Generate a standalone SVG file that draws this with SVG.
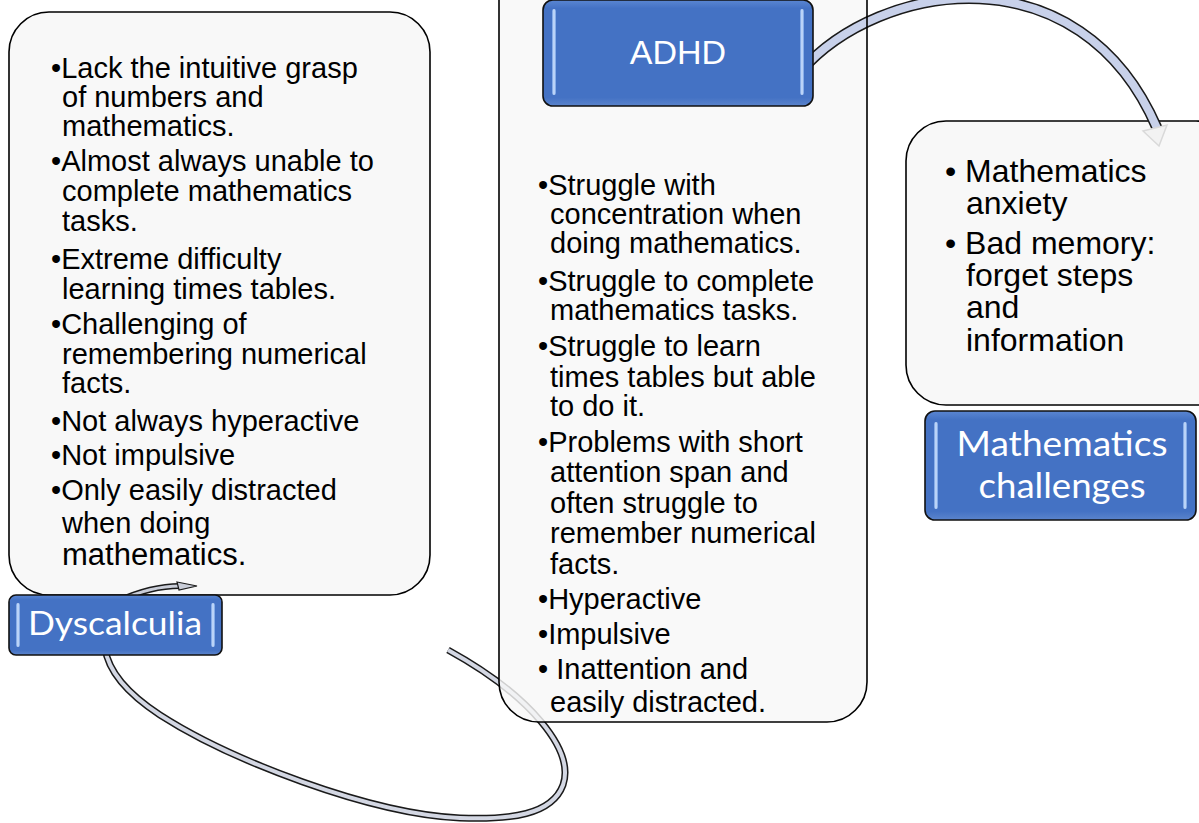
<svg xmlns="http://www.w3.org/2000/svg" width="1199" height="823" viewBox="0 0 1199 823">
  <defs>
    <linearGradient id="gloss" x1="0" y1="0" x2="1" y2="0">
      <stop offset="0" stop-color="#6f9be0"/>
      <stop offset="0.5" stop-color="#d4e6ff"/>
      <stop offset="1" stop-color="#6f9be0"/>
    </linearGradient>
    <linearGradient id="blueFill" x1="0" y1="0" x2="0" y2="1">
      <stop offset="0" stop-color="#5a86d2"/>
      <stop offset="0.08" stop-color="#4472c4"/>
      <stop offset="0.92" stop-color="#4472c4"/>
      <stop offset="1" stop-color="#5b84cc"/>
    </linearGradient>
    <style>
      .card { fill: #f8f8f8; stroke: #000; stroke-width: 1.6; }
      .cardline { fill: none; stroke: #000; stroke-width: 1.6; }
      .label { fill: url(#blueFill); stroke: #111; stroke-width: 1.6; }
      .shine { fill: url(#gloss); }
      .body { font-family: "Liberation Sans", Arial, sans-serif; font-size: 29px; fill: #000; }
      .body-lg { font-family: "Liberation Sans", Arial, sans-serif; font-size: 32px; fill: #000; }
      .title { font-family: Lato, "Open Sans", sans-serif; fill: #fff; text-anchor: middle; }
      .pipe-out { fill: none; stroke: #1a1a1a; stroke-linecap: butt; }
      .pipe-in { fill: none; stroke-linecap: butt; }
    </style>
  </defs>

  <!-- lower looping connector (runs behind the cards) -->
  <g id="connectors-back">
    <path class="pipe-out" stroke-width="7" d="M448,650 C530,695 575,750 563,785 C552,815 510,820 460,818 C370,814 230,760 160,715 C125,692 108,670 105,648"/>
    <path class="pipe-in" stroke="#d3d7e3" stroke-width="4" d="M448,650 C530,695 575,750 563,785 C552,815 510,820 460,818 C370,814 230,760 160,715 C125,692 108,670 105,648"/>
  </g>

  <!-- Dyscalculia card -->
  <g id="card-dyscalculia">
    <rect class="card" x="9" y="12" width="421" height="583" rx="40"/>
    <text class="body">
      <tspan x="51" y="78">•Lack the intuitive grasp</tspan>
      <tspan x="62" y="107">of numbers and</tspan>
      <tspan x="62" y="136">mathematics.</tspan>
      <tspan x="51" y="171">•Almost always unable to</tspan>
      <tspan x="62" y="201">complete mathematics</tspan>
      <tspan x="62" y="231">tasks.</tspan>
      <tspan x="51" y="269">•Extreme difficulty</tspan>
      <tspan x="62" y="299">learning times tables.</tspan>
      <tspan x="51" y="334">•Challenging of</tspan>
      <tspan x="62" y="364">remembering numerical</tspan>
      <tspan x="62" y="393">facts.</tspan>
      <tspan x="51" y="431">•Not always hyperactive</tspan>
      <tspan x="51" y="465">•Not impulsive</tspan>
      <tspan x="51" y="500">•Only easily distracted</tspan>
      <tspan x="62" y="533">when doing</tspan>
      <tspan x="62" y="565" font-size="31">mathematics.</tspan>
    </text>
  </g>

  <!-- ADHD card -->
  <g id="card-adhd">
    <rect x="499" y="-50" width="368" height="772" rx="40" fill="#f8f8f8" fill-opacity="0.82"/>
    <text class="body">
      <tspan x="538" y="195">•Struggle with</tspan>
      <tspan x="550" y="224">concentration when</tspan>
      <tspan x="550" y="253">doing mathematics.</tspan>
      <tspan x="538" y="291">•Struggle to complete</tspan>
      <tspan x="550" y="320">mathematics tasks.</tspan>
      <tspan x="538" y="356">•Struggle to learn</tspan>
      <tspan x="550" y="387">times tables but able</tspan>
      <tspan x="550" y="416">to do it.</tspan>
      <tspan x="538" y="452">•Problems with short</tspan>
      <tspan x="550" y="482">attention span and</tspan>
      <tspan x="550" y="513">often struggle to</tspan>
      <tspan x="550" y="543">remember numerical</tspan>
      <tspan x="550" y="574">facts.</tspan>
      <tspan x="538" y="609">•Hyperactive</tspan>
      <tspan x="538" y="644">•Impulsive</tspan>
      <tspan x="538" y="679">• Inattention and</tspan>
      <tspan x="550" y="712">easily distracted.</tspan>
    </text>
  </g>

  <!-- Mathematics challenges card -->
  <g id="card-challenges">
    <rect class="card" x="906" y="121" width="330" height="284" rx="40"/>
    <text class="body-lg">
      <tspan x="945" y="182">• Mathematics</tspan>
      <tspan x="966" y="214">anxiety</tspan>
      <tspan x="945" y="254">• Bad memory:</tspan>
      <tspan x="966" y="286">forget steps</tspan>
      <tspan x="966" y="318">and</tspan>
      <tspan x="966" y="351">information</tspan>
    </text>
  </g>

  <!-- upper arc from ADHD to the challenges card -->
  <g id="connectors-front">
    <path class="pipe-out" stroke-width="11" d="M800,72 C880,-20 1080,-50 1157,128"/>
    <path class="pipe-in" stroke="#c8d1ea" stroke-width="8" d="M800,72 C880,-20 1080,-50 1157,128"/>
    <polygon points="1143,131 1167,125 1159,146" fill="#f2f2f2" stroke="#d9d9d9" stroke-width="1.5"/>
    <!-- short arrow re-emerging above the Dyscalculia label -->
    <path class="pipe-out" stroke-width="6" d="M118,601 C140,591 158,586 180,586"/>
    <path class="pipe-in" stroke="#c9cdd8" stroke-width="3" d="M118,601 C140,591 158,586 180,586"/>
    <polygon points="177,582 197,586 179,590" fill="#c9cdd8" stroke="#1a1a1a" stroke-width="1.2"/>
  </g>

  <!-- ADHD card outline drawn over the arc -->
  <rect class="cardline" x="499" y="-50" width="368" height="772" rx="40"/>

  <!-- title labels -->
  <g id="label-dyscalculia">
    <rect class="label" x="9" y="595" width="213" height="60" rx="7"/>
    <rect class="shine" x="16" y="603" width="4" height="44" rx="2"/>
    <rect class="shine" x="211" y="603" width="4" height="44" rx="2"/>
    <text class="title" x="115" y="635" font-size="33" textLength="174" lengthAdjust="spacingAndGlyphs">Dyscalculia</text>
  </g>

  <g id="label-adhd">
    <rect class="label" x="543" y="0" width="270" height="106" rx="10"/>
    <rect class="shine" x="552" y="9" width="4" height="86" rx="2"/>
    <rect class="shine" x="800" y="9" width="4" height="86" rx="2"/>
    <text x="678" y="64" font-family="Liberation Sans, Arial, sans-serif" font-size="34" fill="#fff" text-anchor="middle">ADHD</text>
  </g>

  <g id="label-challenges">
    <rect class="label" x="925" y="411" width="271" height="109" rx="10"/>
    <rect class="shine" x="934" y="422" width="4" height="87" rx="2"/>
    <rect class="shine" x="1183" y="422" width="4" height="87" rx="2"/>
    <text class="title" x="1062" y="456" font-size="35" textLength="211" lengthAdjust="spacingAndGlyphs">Mathematics</text>
    <text class="title" x="1062" y="498" font-size="35" textLength="167" lengthAdjust="spacingAndGlyphs">challenges</text>
  </g>
</svg>
